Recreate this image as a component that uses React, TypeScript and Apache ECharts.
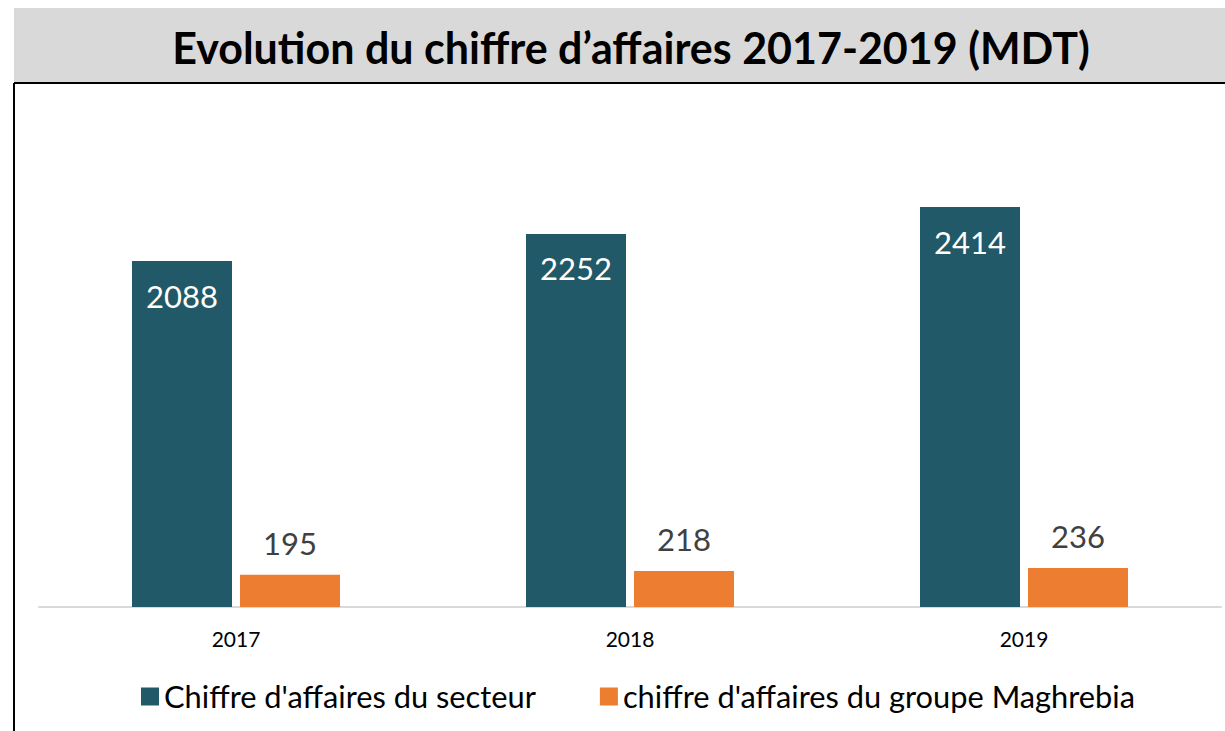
import React, { useEffect, useRef } from "react";
import * as echarts from "echarts";

const categories = ["2017", "2018", "2019"];
const secteurValues = [2088, 2252, 2414];
const groupeValues = [195, 218, 236];
const seriesNames = ["Chiffre d'affaires du secteur", "chiffre d'affaires du groupe Maghrebia"];
const titleText = "Evolution du chiffre d’affaires 2017-2019 (MDT)";

export default function App() {
  const ref = useRef<HTMLDivElement>(null);
  useEffect(() => {
    if (!ref.current) return;
    const chart = echarts.init(ref.current, undefined, { renderer: "svg" });
    const font = "Lato, 'Noto Sans', sans-serif";
    chart.setOption({
      animation: false,
      backgroundColor: "#ffffff",
      textStyle: { fontFamily: font },
      graphic: [
        { type: "rect", shape: { x: 14, y: 8, width: 1211, height: 74 }, style: { fill: "#d9d9d9" }, z: 0 },
        { type: "line", shape: { x1: 14, y1: 83, x2: 1225, y2: 83 }, style: { stroke: "#000", lineWidth: 2 } },
        { type: "line", shape: { x1: 14, y1: 83, x2: 14, y2: 731 }, style: { stroke: "#000", lineWidth: 2 } },
        {
          type: "text",
          x: 631,
          y: 47,
          style: {
            text: titleText,
            fontSize: 43,
            fontWeight: "bold",
            fontFamily: font,
            fill: "#000",
            textAlign: "center",
            textVerticalAlign: "middle",
          },
        },
      ],
      legend: {
        data: seriesNames,
        left: 136,
        top: 676,
        icon: "rect",
        itemWidth: 18,
        itemHeight: 18,
        itemGap: 64,
        textStyle: { fontSize: 30.8, color: "#000", fontFamily: font },
      },
      grid: { left: 39, right: 4, top: 110, bottom: 124, containLabel: false },
      xAxis: {
        type: "category",
        data: categories,
        axisLine: { lineStyle: { color: "#d9d9d9", width: 2 } },
        axisTick: { show: false },
        axisLabel: { fontSize: 21, color: "#000", margin: 21, fontFamily: font },
      },
      yAxis: {
        type: "value",
        min: 0,
        max: 3000,
        show: false,
        splitLine: { show: false },
      },
      series: [
        {
          name: seriesNames[0],
          type: "bar",
          data: secteurValues,
          itemStyle: { color: "#215968" },
          barWidth: 100,
          barGap: "8%",
          label: {
            show: true,
            position: "insideTop",
            distance: 19,
            color: "#fff",
            fontSize: 31,
            fontFamily: font,
          },
        },
        {
          name: seriesNames[1],
          type: "bar",
          data: groupeValues,
          itemStyle: { color: "#ED7D31" },
          barWidth: 100,
          label: {
            show: true,
            position: "top",
            distance: 16,
            color: "#404040",
            fontSize: 31,
            fontFamily: font,
          },
        },
      ],
    });
    return () => chart.dispose();
  }, []);
  return <div ref={ref} style={{ position: "fixed", left: 0, top: 0, width: 1225, height: 731 }} />;
}
